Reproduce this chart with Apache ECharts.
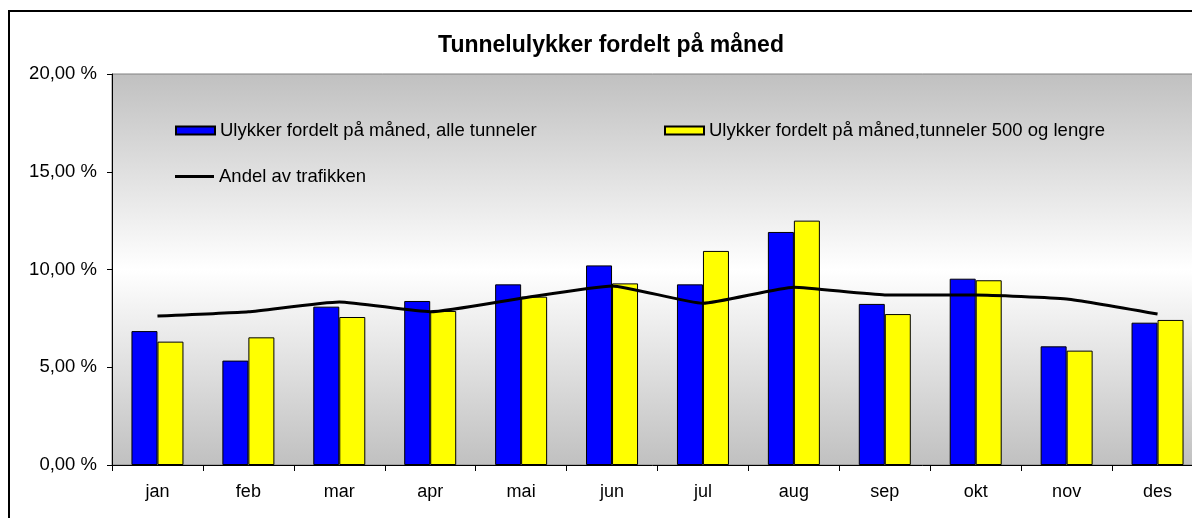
<!DOCTYPE html>
<html>
<head>
<meta charset="utf-8">
<script src="https://cdn.jsdelivr.net/npm/echarts@6/dist/echarts.min.js"></script>
<style>
  html, body { margin: 0; padding: 0; background: #fff; }
  #chart { width: 1192px; height: 518px; }
</style>
</head>
<body>
<div id="chart"></div>
<script>
// data (percent)
var months = ['jan', 'feb', 'mar', 'apr', 'mai', 'jun', 'jul', 'aug', 'sep', 'okt', 'nov', 'des'];
var alleTunneler = [6.85, 5.34, 8.10, 8.39, 9.24, 10.21, 9.24, 11.92, 8.24, 9.53, 6.07, 7.28];
var lengeTunneler = [6.31, 6.53, 7.57, 7.88, 8.61, 9.29, 10.95, 12.50, 7.72, 9.45, 5.85, 7.42];
var andelTrafikk = [7.62, 7.84, 8.34, 7.84, 8.53, 9.16, 8.27, 9.09, 8.70, 8.70, 8.49, 7.72];

var NAME_ALLE = 'Ulykker fordelt på måned, alle tunneler';
var NAME_500 = 'Ulykker fordelt på måned,tunneler 500 og lengre';
var NAME_TRAFIKK = 'Andel av trafikken';

var FONT = 'Liberation Sans, Arial, sans-serif';
var legendText = { fontFamily: FONT, fontSize: 18.5, color: '#000' };

var chart = echarts.init(document.getElementById('chart'));
chart.setOption({
  animation: false,
  title: {
    text: 'Tunnelulykker fordelt på måned',
    left: 606,
    textAlign: 'center',
    top: 29,
    textStyle: { fontFamily: FONT, fontSize: 23, fontWeight: 'bold', color: '#000' }
  },
  legend: [
    {
      data: [NAME_ALLE],
      left: 175, top: 121, padding: 0,
      icon: 'rect', itemWidth: 39, itemHeight: 8, itemGap: 0,
      textStyle: legendText
    },
    {
      data: [NAME_500],
      left: 664, top: 121, padding: 0,
      icon: 'rect', itemWidth: 39, itemHeight: 8, itemGap: 0,
      textStyle: legendText
    },
    {
      data: [NAME_TRAFIKK],
      left: 175, top: 167, padding: 0,
      icon: 'rect', itemWidth: 39, itemHeight: 3, itemGap: 0,
      textStyle: legendText
    }
  ],
  grid: {
    left: 112,
    top: 74,
    width: 1091,
    height: 391,
    outerBoundsMode: 'none',
    show: true,
    borderColor: '#808080',
    borderWidth: 1,
    backgroundColor: new echarts.graphic.LinearGradient(0, 0, 0, 1, [
      { offset: 0, color: '#c0c0c0' },
      { offset: 0.5, color: '#ffffff' },
      { offset: 1, color: '#c0c0c0' }
    ])
  },
  xAxis: {
    type: 'category',
    data: months,
    axisLine: { lineStyle: { color: '#000', width: 1 } },
    axisTick: { show: true, length: 6, lineStyle: { color: '#000' } },
    axisLabel: { margin: 18, fontFamily: FONT, fontSize: 18, color: '#000' },
    splitLine: { show: false }
  },
  yAxis: {
    type: 'value',
    min: 0,
    max: 20,
    interval: 5,
    axisLine: { show: true, lineStyle: { color: '#000', width: 1 } },
    axisTick: { show: true, length: 5, lineStyle: { color: '#000' } },
    axisLabel: {
      margin: 15,
      fontFamily: FONT, fontSize: 18.5, color: '#000',
      formatter: function (v) { return v.toFixed(2).replace('.', ',') + ' %'; }
    },
    splitLine: { show: false }
  },
  series: [
    {
      name: NAME_ALLE,
      type: 'bar',
      data: alleTunneler,
      barWidth: 26,
      barGap: '0%',
      itemStyle: { color: '#0000ff', borderColor: '#000', borderWidth: 1 }
    },
    {
      name: NAME_500,
      type: 'bar',
      data: lengeTunneler,
      barWidth: 26,
      barGap: '0%',
      itemStyle: { color: '#ffff00', borderColor: '#000', borderWidth: 1 }
    },
    {
      name: NAME_TRAFIKK,
      type: 'line',
      data: andelTrafikk,
      symbol: 'none',
      smooth: 0.15,
      z: 5,
      lineStyle: { color: '#000', width: 3 },
      itemStyle: { color: '#000' }
    }
  ],
  graphic: [
    {
      type: 'rect',
      shape: { x: 9, y: 11, width: 1220, height: 600 },
      style: { fill: 'none', stroke: '#000', lineWidth: 2 },
      silent: true,
      z: 100
    }
  ]
});
</script>
</body>
</html>
